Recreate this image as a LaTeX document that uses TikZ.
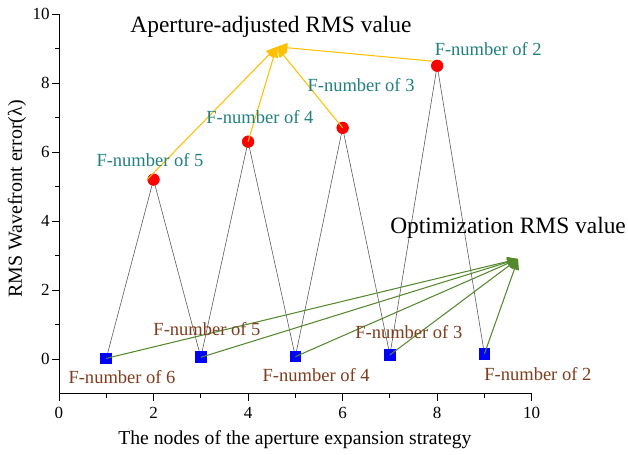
\documentclass[tikz,border=0pt]{standalone}
\usepackage{fontspec}
\setmainfont{Liberation Serif}
\usetikzlibrary{arrows.meta}
\definecolor{teallab}{RGB}{34,128,128}
\definecolor{brownlab}{RGB}{128,60,28}
\definecolor{goldarr}{RGB}{255,192,0}
\definecolor{greenarr}{RGB}{84,138,46}

\begin{document}
\begin{tikzpicture}[x=1.418cm,y=1.035cm,line width=0.8pt,>=Stealth,
  redpt/.style={circle,fill=red,inner sep=0pt,minimum size=0.36cm},
  bluept/.style={rectangle,fill=blue,inner sep=0pt,minimum size=0.35cm},
  goldarrow/.style={->,draw=goldarr,line width=0.9pt,>={Triangle[length=3.2mm,width=2.8mm]}},
  greenarrow/.style={->,draw=greenarr,line width=0.9pt,>={Triangle[length=3.2mm,width=2.8mm]}},
  uplab/.style={anchor=base,text=teallab,font=\fontsize{15.8}{18}\selectfont,inner sep=0pt},
  lowlab/.style={anchor=base,text=brownlab,font=\fontsize{15.8}{18}\selectfont,inner sep=0pt},
  bigtitle/.style={anchor=base,font=\fontsize{20}{24}\selectfont,inner sep=0pt},
  ticklab/.style={font=\fontsize{14.5}{17}\selectfont,inner sep=0pt}]
\useasboundingbox (-1.248,-2.754) rectangle (12.037,10.406);
% axes
\draw (0,10) -- (0,-1) -- (10,-1);
\foreach \t in {0,2,...,10} {
  \draw (0,\t) -- ++(-0.21cm,0);
  \node[ticklab,anchor=east] at ([xshift=-0.27cm]0,\t) {\t};
  \draw (\t,-1) -- ++(0,-0.21cm);
  \node[ticklab,anchor=base] at (\t,-1.71) {\t};
}
\foreach \t in {1,3,...,9} {
  \draw (0,\t) -- ++(-0.12cm,0);
  \draw (\t,-1) -- ++(0,-0.12cm);
}
\node[anchor=base,font=\fontsize{16.8}{20}\selectfont,inner sep=0pt] (xlab) at (4.99,-2.49)
  {The nodes of the aperture expansion strategy};
\node[rotate=90,font=\fontsize{17}{20}\selectfont,inner sep=0pt] (ylab) at (-0.889,4.64)
  {RMS Wavefront error(λ)};
% data points
\node[redpt] (r2) at (2,5.2) {};
\node[redpt] (r4) at (4,6.3) {};
\node[redpt] (r6) at (6,6.7) {};
\node[redpt] (r8) at (8,8.5) {};
\node[bluept] (b1) at (1,0.02) {};
\node[bluept] (b3) at (3,0.05) {};
\node[bluept] (b5) at (5,0.07) {};
\node[bluept] (b7) at (7,0.12) {};
\node[bluept] (b9) at (9,0.15) {};
% zigzag
\draw[black!65,line width=0.5pt] (b1.center) -- (r2.center) -- (b3.center) -- (r4.center) -- (b5.center)
  -- (r6.center) -- (b7.center) -- (r8.center) -- (b9.center);
\foreach \p in {r2,r4,r6,r8} \node[redpt] at (\p) {};
\foreach \p in {b1,b3,b5,b7,b9} \node[bluept] at (\p) {};
% targets
\coordinate (aptop) at (4.605,9.05);
\coordinate (optop) at (9.71,2.90);
\foreach \p in {r2.west,r4.center,r6.center,r8.north west}
  \draw[goldarrow] (\p) -- (aptop);
\foreach \p in {b1,b3,b5,b7,b9}
  \draw[greenarrow] (\p.center) -- (optop);
% labels
\node[bigtitle] (aptitle) at (4.485,9.45) {Aperture-adjusted RMS value};
\node[bigtitle] (optitle) at (9.50,3.65) {Optimization RMS value};
\node[uplab] (u5) at (1.925,5.57) {F-number of 5};
\node[uplab] (u4) at (4.25,6.84) {F-number of 4};
\node[uplab] (u3) at (6.39,7.74) {F-number of 3};
\node[uplab] (u2) at (9.08,8.81) {F-number of 2};
\node[lowlab] (l6) at (1.333,-0.70) {F-number of 6};
\node[lowlab] (l5) at (3.13,0.675) {F-number of 5};
\node[lowlab] (l4) at (5.44,-0.66) {F-number of 4};
\node[lowlab] (l3) at (7.40,0.61) {F-number of 3};
\node[lowlab] (l2) at (10.13,-0.63) {F-number of 2};
\end{tikzpicture}
\end{document}
